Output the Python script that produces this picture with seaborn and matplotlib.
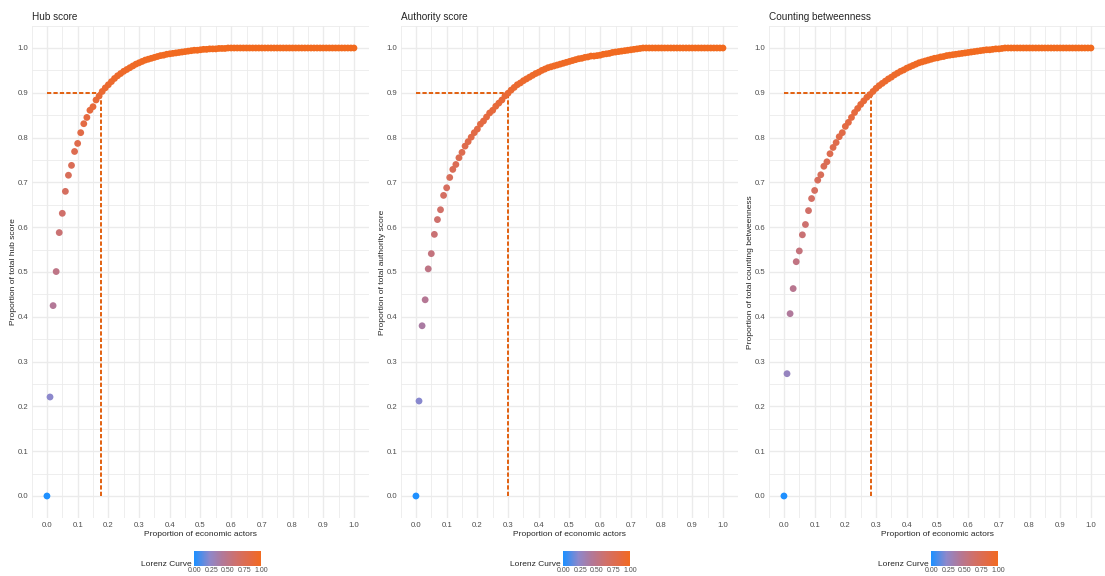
import numpy as np
import pandas as pd
import matplotlib
matplotlib.use("Agg")
import matplotlib.pyplot as plt
import seaborn as sns
from matplotlib.colors import LinearSegmentedColormap, Normalize
from matplotlib.cm import ScalarMappable
from matplotlib.ticker import MultipleLocator, FormatStrFormatter

# Proporcao de atores economicos (eixo x, passo 0.01)
share = [0.00, 0.01, 0.02, 0.03, 0.04, 0.05, 0.06, 0.07, 0.08, 0.09,
         0.10, 0.11, 0.12, 0.13, 0.14, 0.15, 0.16, 0.17, 0.18, 0.19,
         0.20, 0.21, 0.22, 0.23, 0.24, 0.25, 0.26, 0.27, 0.28, 0.29,
         0.30, 0.31, 0.32, 0.33, 0.34, 0.35, 0.36, 0.37, 0.38, 0.39,
         0.40, 0.41, 0.42, 0.43, 0.44, 0.45, 0.46, 0.47, 0.48, 0.49,
         0.50, 0.51, 0.52, 0.53, 0.54, 0.55, 0.56, 0.57, 0.58, 0.59,
         0.60, 0.61, 0.62, 0.63, 0.64, 0.65, 0.66, 0.67, 0.68, 0.69,
         0.70, 0.71, 0.72, 0.73, 0.74, 0.75, 0.76, 0.77, 0.78, 0.79,
         0.80, 0.81, 0.82, 0.83, 0.84, 0.85, 0.86, 0.87, 0.88, 0.89,
         0.90, 0.91, 0.92, 0.93, 0.94, 0.95, 0.96, 0.97, 0.98, 0.99,
         1.00]

# Curvas de Lorenz
hub = [0.000, 0.221, 0.425, 0.501, 0.588, 0.631, 0.680, 0.716, 0.738, 0.769,
       0.787, 0.811, 0.831, 0.845, 0.861, 0.869, 0.884, 0.893, 0.903, 0.911,
       0.918, 0.925, 0.932, 0.938, 0.943, 0.948, 0.952, 0.956, 0.960, 0.964,
       0.967, 0.970, 0.973, 0.975, 0.977, 0.979, 0.981, 0.983, 0.984, 0.986,
       0.987, 0.988, 0.989, 0.990, 0.991, 0.992, 0.993, 0.994, 0.995, 0.995,
       0.996, 0.997, 0.997, 0.998, 0.998, 0.998, 0.999, 0.999, 0.999, 1.000,
       1.000, 1.000, 1.000, 1.000, 1.000, 1.000, 1.000, 1.000, 1.000, 1.000,
       1.000, 1.000, 1.000, 1.000, 1.000, 1.000, 1.000, 1.000, 1.000, 1.000,
       1.000, 1.000, 1.000, 1.000, 1.000, 1.000, 1.000, 1.000, 1.000, 1.000,
       1.000, 1.000, 1.000, 1.000, 1.000, 1.000, 1.000, 1.000, 1.000, 1.000,
       1.000]

authority = [0.000, 0.212, 0.380, 0.438, 0.507, 0.541, 0.584, 0.617, 0.639, 0.671,
             0.688, 0.711, 0.729, 0.740, 0.755, 0.767, 0.781, 0.791, 0.801, 0.811,
             0.819, 0.830, 0.837, 0.846, 0.855, 0.861, 0.870, 0.877, 0.884, 0.893,
             0.899, 0.906, 0.912, 0.918, 0.922, 0.927, 0.931, 0.935, 0.939, 0.943,
             0.946, 0.950, 0.953, 0.956, 0.958, 0.960, 0.962, 0.964, 0.966, 0.968,
             0.970, 0.972, 0.974, 0.976, 0.977, 0.979, 0.980, 0.982, 0.982, 0.983,
             0.984, 0.986, 0.987, 0.988, 0.990, 0.991, 0.992, 0.993, 0.994, 0.995,
             0.996, 0.997, 0.998, 0.999, 1.000, 1.000, 1.000, 1.000, 1.000, 1.000,
             1.000, 1.000, 1.000, 1.000, 1.000, 1.000, 1.000, 1.000, 1.000, 1.000,
             1.000, 1.000, 1.000, 1.000, 1.000, 1.000, 1.000, 1.000, 1.000, 1.000,
             1.000]

betweenness = [0.000, 0.273, 0.407, 0.463, 0.523, 0.547, 0.583, 0.606, 0.637, 0.664,
               0.682, 0.705, 0.717, 0.736, 0.746, 0.764, 0.778, 0.789, 0.802, 0.811,
               0.825, 0.834, 0.845, 0.856, 0.865, 0.874, 0.882, 0.890, 0.896, 0.903,
               0.910, 0.916, 0.921, 0.926, 0.931, 0.935, 0.940, 0.944, 0.948, 0.951,
               0.955, 0.958, 0.961, 0.964, 0.967, 0.969, 0.971, 0.973, 0.975, 0.977,
               0.978, 0.980, 0.981, 0.983, 0.984, 0.985, 0.986, 0.987, 0.988, 0.989,
               0.990, 0.991, 0.992, 0.993, 0.994, 0.995, 0.996, 0.996, 0.997, 0.998,
               0.998, 0.999, 1.000, 1.000, 1.000, 1.000, 1.000, 1.000, 1.000, 1.000,
               1.000, 1.000, 1.000, 1.000, 1.000, 1.000, 1.000, 1.000, 1.000, 1.000,
               1.000, 1.000, 1.000, 1.000, 1.000, 1.000, 1.000, 1.000, 1.000, 1.000,
               1.000]

titles = ['Hub score', 'Authority score', 'Counting betweenness']
y_labels = ['Proportion of total hub score', 'Proportion of total authority score',
            'Proportion of total counting betweenness']
curves = [hub, authority, betweenness]
cut_x = [0.175, 0.30, 0.282]   # proporcao de atores que concentra 90%
cut_y = 0.9

# Gradiente azul -> laranja (como no ggplot)
cmap = LinearSegmentedColormap.from_list('lorenz', [
    (0.00, '#1E90FF'), (0.22, '#8C88CC'), (0.42, '#B27898'),
    (0.63, '#D0706A'), (0.85, '#E56A40'), (1.00, '#F26A1E')])
line_col = '#E2600F'
grid_col = '#EBEBEB'
text_grey = '#4D4D4D'

sns.set_theme(style='white')
plt.rcParams['font.family'] = ['Liberation Sans', 'DejaVu Sans']

W, H = 1105, 576
fig = plt.figure(figsize=(W / 100, H / 100), dpi=100)

lefts = [31.6, 400.6, 768.6]
for i in range(3):
    ax = fig.add_axes([lefts[i] / W, 57.6 / H, 337.7 / W, 492.8 / H])
    df = pd.DataFrame({'x': share, 'y': curves[i]})
    sns.scatterplot(data=df, x='x', y='y', hue='y', palette=cmap, hue_norm=(0, 1),
                    s=24, linewidth=0, legend=False, ax=ax, zorder=3)
    ax.plot([0, cut_x[i]], [cut_y, cut_y], color=line_col, lw=1.4,
            linestyle=(0, (2.2, 1.1)), zorder=2)
    ax.plot([cut_x[i], cut_x[i]], [0, cut_y], color=line_col, lw=1.4,
            linestyle=(0, (2.2, 1.1)), zorder=2)

    ax.set_xlim(-0.05, 1.05)
    ax.set_ylim(-0.05, 1.05)
    for axis in (ax.xaxis, ax.yaxis):
        axis.set_major_locator(MultipleLocator(0.1))
        axis.set_minor_locator(MultipleLocator(0.05))
        axis.set_major_formatter(FormatStrFormatter('%.1f'))
    ax.grid(which='major', color=grid_col, lw=1.0)
    ax.grid(which='minor', color=grid_col, lw=0.6)
    ax.set_axisbelow(True)
    for sp in ax.spines.values():
        sp.set_visible(False)
    ax.tick_params(which='both', length=0, labelsize=5.6, colors=text_grey, pad=2.5)

    ax.set_title(titles[i], loc='left', fontsize=7.2, pad=4)
    ax.set_xlabel('Proportion of economic actors', fontsize=6, labelpad=1.5)
    ax.set_ylabel(y_labels[i], fontsize=6, labelpad=0.5)

    # legenda de cor
    c = lefts[i] + 337.7 / 2
    cax = fig.add_axes([(c - 6) / W, 10.5 / H, 67 / W, 14.5 / H])
    cb = fig.colorbar(ScalarMappable(norm=Normalize(0, 1), cmap=cmap), cax=cax,
                      orientation='horizontal', ticks=[0, 0.25, 0.5, 0.75, 1])
    cb.outline.set_visible(False)
    cb.ax.set_xticklabels(['0.00', '0.25', '0.50', '0.75', '1.00'])
    cb.ax.tick_params(direction='in', color='white', length=2.5, width=0.6,
                      top=True, bottom=True, labelsize=5.0, labelcolor=text_grey, pad=1.2)
    fig.text((c - 9) / W, (H - 564) / H, 'Lorenz Curve', fontsize=6,
             ha='right', va='center')

fig.savefig('out.png', dpi=100)
